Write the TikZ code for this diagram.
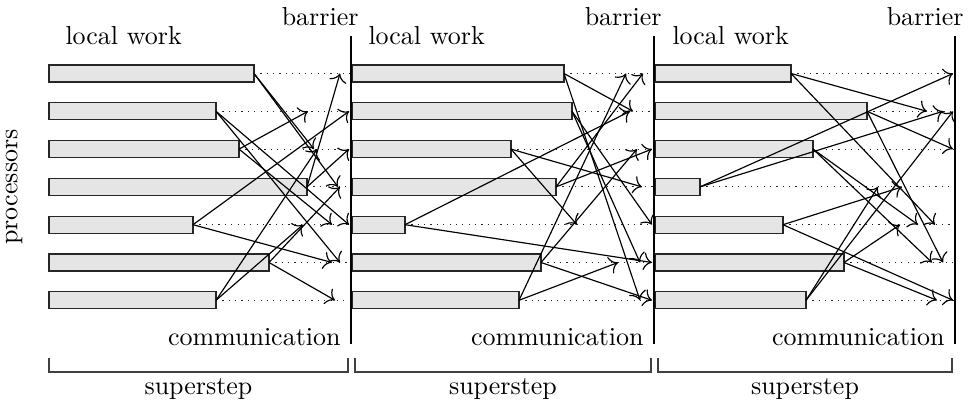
\documentclass[tikz,border=0pt]{standalone}
\usetikzlibrary{arrows.meta}
\begin{document}
\begin{tikzpicture}[x=0.385pt,y=-0.385pt,
  bar/.style={rectangle,draw=black!85,fill=black!10,line width=0.45pt,minimum height=6.55pt,inner sep=0pt,outer sep=0pt,anchor=west},
  msg/.style={-{To[scale=1.25]},line width=0.45pt},
  dotln/.style={dotted,line width=0.45pt,black!85},
  barrierline/.style={line width=1.1pt},
  bracket/.style={line width=0.45pt,black!75},
  lbl/.style={inner sep=0pt,font=\normalsize}]
\useasboundingbox (0,0) rectangle (970,408);

% ---------- section 1 ----------
\foreach \r/\e in {1/254,2/216,3/239,4/307,5/193,6/269,7/216}{
  \pgfmathsetmacro\yy{73.5+(\r-1)*37.8}
  \pgfmathsetmacro\ww{(\e-49)*0.385}
  \node[bar,minimum width=\ww pt] (a\r) at (49,\yy) {};
  \coordinate (ae\r) at (351,\yy);
  \draw[dotln] (a\r.east) -- (ae\r);
}
% ---------- section 2 ----------
\foreach \r/\e in {1/564,2/572,3/511,4/556,5/405,6/541,7/519}{
  \pgfmathsetmacro\yy{73.5+(\r-1)*37.8}
  \pgfmathsetmacro\ww{(\e-352)*0.385}
  \node[bar,minimum width=\ww pt] (b\r) at (352,\yy) {};
  \coordinate (be\r) at (654,\yy);
  \draw[dotln] (b\r.east) -- (be\r);
}
% ---------- section 3 ----------
\foreach \r/\e in {1/791,2/867,3/813,4/700,5/783,6/844,7/806}{
  \pgfmathsetmacro\yy{73.5+(\r-1)*37.8}
  \pgfmathsetmacro\ww{(\e-655)*0.385}
  \node[bar,minimum width=\ww pt] (c\r) at (655,\yy) {};
  \coordinate (ce\r) at (955,\yy);
  \draw[dotln] (c\r.east) -- (ce\r);
}

% ---------- messages ----------
\foreach \f/\t/\x in {1/3/314,1/4/338,2/5/349,2/6/340,3/2/308,3/5/332,4/1/340,4/3/349,
                      5/2/349,5/6/332,6/7/335,6/4/340,7/5/303,7/3/317}{
  \pgfmathsetmacro\yy{73.5+(\t-1)*37.8}
  \coordinate (am\f-\t) at (\x,\yy);
  \draw[msg] (a\f.east) -- (am\f-\t);
}
\foreach \f/\t/\x in {1/2/633,1/7/640,2/5/652,2/6/640,3/4/642,3/5/577,4/1/643,4/3/652,
                      5/2/630,5/6/652,6/3/637,6/7/652,7/6/618,7/1/626}{
  \pgfmathsetmacro\yy{73.5+(\t-1)*37.8}
  \coordinate (bm\f-\t) at (\x,\yy);
  \draw[msg] (b\f.east) -- (bm\f-\t);
}
\foreach \f/\t/\x in {1/2/927,1/5/935,2/3/953,2/6/943,3/5/918,3/6/932,4/1/953,4/2/943,
                      5/4/902,5/7/953,6/5/900,6/7/937,7/4/878,7/2/953}{
  \pgfmathsetmacro\yy{73.5+(\t-1)*37.8}
  \coordinate (cm\f-\t) at (\x,\yy);
  \draw[msg] (c\f.east) -- (cm\f-\t);
}

% ---------- barriers ----------
\coordinate (bt1) at (351,36); \coordinate (bb1) at (351,344);
\coordinate (bt2) at (654,36); \coordinate (bb2) at (654,344);
\coordinate (bt3) at (955,36); \coordinate (bb3) at (955,344);
\draw[barrierline] (bt1) -- (bb1);
\draw[barrierline] (bt2) -- (bb2);
\draw[barrierline] (bt3) -- (bb3);

% ---------- labels ----------
\node[lbl,anchor=base west] (lw1) at (65,45) {local work};
\node[lbl,anchor=base west] (lw2) at (368,45) {local work};
\node[lbl,anchor=base west] (lw3) at (672,45) {local work};
\node[lbl,anchor=base east] (bl1) at (359,26) {barrier};
\node[lbl,anchor=base east] (bl2) at (662,26) {barrier};
\node[lbl,anchor=base east] (bl3) at (964,26) {barrier};
\node[lbl,anchor=base east] (cm1) at (341,345) {communication};
\node[lbl,anchor=base east] (cm2) at (644,345) {communication};
\node[lbl,anchor=base east] (cm3) at (945,345) {communication};
\node[lbl,rotate=90] (proc) at (14,187) {processors};

% ---------- brackets ----------
\draw[bracket] (49,358) -- (49,372) -- (348,372) -- (348,358);
\draw[bracket] (355,358) -- (355,372) -- (651,372) -- (651,358);
\draw[bracket] (658,358) -- (658,372) -- (952,372) -- (952,358);
\node[lbl,anchor=base] (ss1) at (198.5,394) {superstep};
\node[lbl,anchor=base] (ss2) at (503,394) {superstep};
\node[lbl,anchor=base] (ss3) at (805,394) {superstep};
\end{tikzpicture}
\end{document}
